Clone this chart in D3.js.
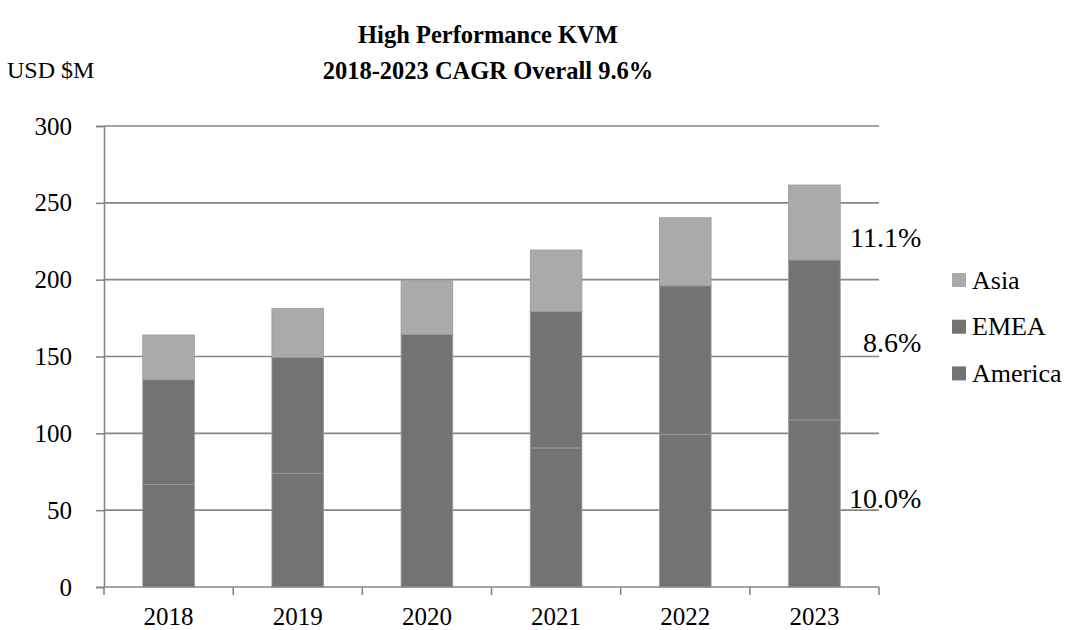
<!DOCTYPE html>
<html>
<head>
  <meta charset="utf-8">
  <title>High Performance KVM</title>
  <script src="https://d3js.org/d3.v7.min.js"></script>
  <style>
    body { margin: 0; background: #fff; }
    svg text { font-family: "Liberation Serif", "Times New Roman", serif; fill: #000; }
  </style>
</head>
<body>
<div id="chart"></div>
<script>
  // data (USD $M)
  const years = ["2018", "2019", "2020", "2021", "2022", "2023"];
  const america = [66.8, 74, 164.4, 90.5, 99.4, 108.7];
  const emea    = [68.1, 75.5, 0, 88.9, 96.6, 104.1];
  const asia    = [29.1, 31.9, 35.4, 39.9, 44.3, 48.8];
  const seriesNames = ["America", "EMEA", "Asia"];
  const seriesColors = ["#737373", "#737373", "#aaaaaa"];
  const yTicks = [0, 50, 100, 150, 200, 250, 300];
  const cagrText = ["10.0%", "8.6%", "11.1%"];
  const cagrAt = [51.4, 153, 221];   // value where each label sits

  const serif = "'Liberation Serif', 'Times New Roman', serif";
  const width = 1065, height = 630;
  const margin = { top: 126, bottom: 43, left: 104, right: 186 };

  const svg = d3.select("#chart").append("svg")
    .attr("width", width)
    .attr("height", height)
    .style("display", "block");

  const x = d3.scaleBand()
    .domain(years)
    .range([margin.left, width - margin.right])
    .paddingInner(0.6)
    .paddingOuter(0.3);

  const y = d3.scaleLinear()
    .domain([0, 300])
    .range([height - margin.bottom, margin.top]);

  // gridlines
  svg.append("g")
    .selectAll("line")
    .data(yTicks.slice(1))
    .join("line")
    .attr("x1", margin.left)
    .attr("x2", width - margin.right)
    .attr("y1", d => y(d))
    .attr("y2", d => y(d))
    .attr("stroke", "#868686")
    .attr("stroke-width", 1.6);

  // stacked bars
  const rows = years.map((yr, i) => ({ year: yr, America: america[i], EMEA: emea[i], Asia: asia[i] }));
  const stacked = d3.stack().keys(seriesNames)(rows);

  svg.append("g")
    .selectAll("g")
    .data(stacked)
    .join("g")
    .attr("fill", (d, i) => seriesColors[i])
    .selectAll("rect")
    .data(d => d.filter(s => s[1] - s[0] > 0))
    .join("rect")
    .attr("x", d => x(d.data.year))
    .attr("width", x.bandwidth())
    .attr("y", d => y(d[1]))
    .attr("height", d => y(d[0]) - y(d[1]))
    .attr("stroke", "#9a9a9a")
    .attr("stroke-width", 0.8);

  // y axis
  const yAxis = svg.append("g")
    .attr("transform", "translate(" + margin.left + ",0)")
    .call(d3.axisLeft(y).tickValues(yTicks).tickSize(8).tickPadding(24));
  yAxis.attr("font-family", serif).attr("font-size", 25);
  yAxis.select(".domain").attr("stroke", "#868686").attr("stroke-width", 1.6);
  yAxis.selectAll(".tick line").attr("stroke", "#868686").attr("stroke-width", 1.6);
  yAxis.selectAll("text").attr("font-family", serif).attr("font-size", 25);

  // x axis
  const xAxis = svg.append("g")
    .attr("transform", "translate(0," + y(0) + ")")
    .call(d3.axisBottom(x).tickSize(0).tickPadding(20));
  xAxis.attr("font-family", serif).attr("font-size", 25);
  xAxis.select(".domain").remove();
  xAxis.selectAll("text").attr("font-family", serif).attr("font-size", 25);

  svg.append("line")
    .attr("x1", margin.left)
    .attr("x2", width - margin.right)
    .attr("y1", y(0))
    .attr("y2", y(0))
    .attr("stroke", "#868686")
    .attr("stroke-width", 1.6);

  // category boundary ticks
  const bounds = years.map(d => x(d) - x.step() * x.paddingOuter());
  bounds.push(width - margin.right);
  svg.append("g")
    .selectAll("line")
    .data(bounds)
    .join("line")
    .attr("x1", d => d)
    .attr("x2", d => d)
    .attr("y1", y(0))
    .attr("y2", y(0) + 8)
    .attr("stroke", "#868686")
    .attr("stroke-width", 1.6);

  // CAGR labels next to the 2023 bar
  const lastX = x(years[years.length - 1]) + x.bandwidth();
  svg.append("g")
    .selectAll("text")
    .data(cagrText)
    .join("text")
    .attr("x", lastX + 81)
    .attr("y", (d, i) => y(cagrAt[i]))
    .attr("text-anchor", "end")
    .attr("font-family", serif)
    .attr("font-size", 28)
    .text(d => d);

  // legend (Asia on top)
  const legend = svg.append("g")
    .selectAll("g")
    .data(seriesNames.slice().reverse())
    .join("g")
    .attr("transform", (d, i) => "translate(952," + (273 + i * 46.7) + ")");
  legend.append("rect")
    .attr("width", 14)
    .attr("height", 14)
    .attr("fill", d => seriesColors[seriesNames.indexOf(d)]);
  legend.append("text")
    .attr("x", 20)
    .attr("y", 15.5)
    .attr("font-family", serif)
    .attr("font-size", 26)
    .text(d => d);

  // titles
  const titleLines = ["High Performance KVM", "2018-2023 CAGR Overall 9.6%"];
  svg.append("g")
    .selectAll("text")
    .data(titleLines)
    .join("text")
    .attr("x", 488)
    .attr("y", (d, i) => 43 + i * 36)
    .attr("text-anchor", "middle")
    .attr("font-family", serif)
    .attr("font-size", 24.5)
    .attr("font-weight", "bold")
    .text(d => d);
  svg.append("text")
    .attr("x", 7)
    .attr("y", 78)
    .attr("font-family", serif)
    .attr("font-size", 24)
    .text("USD $M");
</script>
</body>
</html>
